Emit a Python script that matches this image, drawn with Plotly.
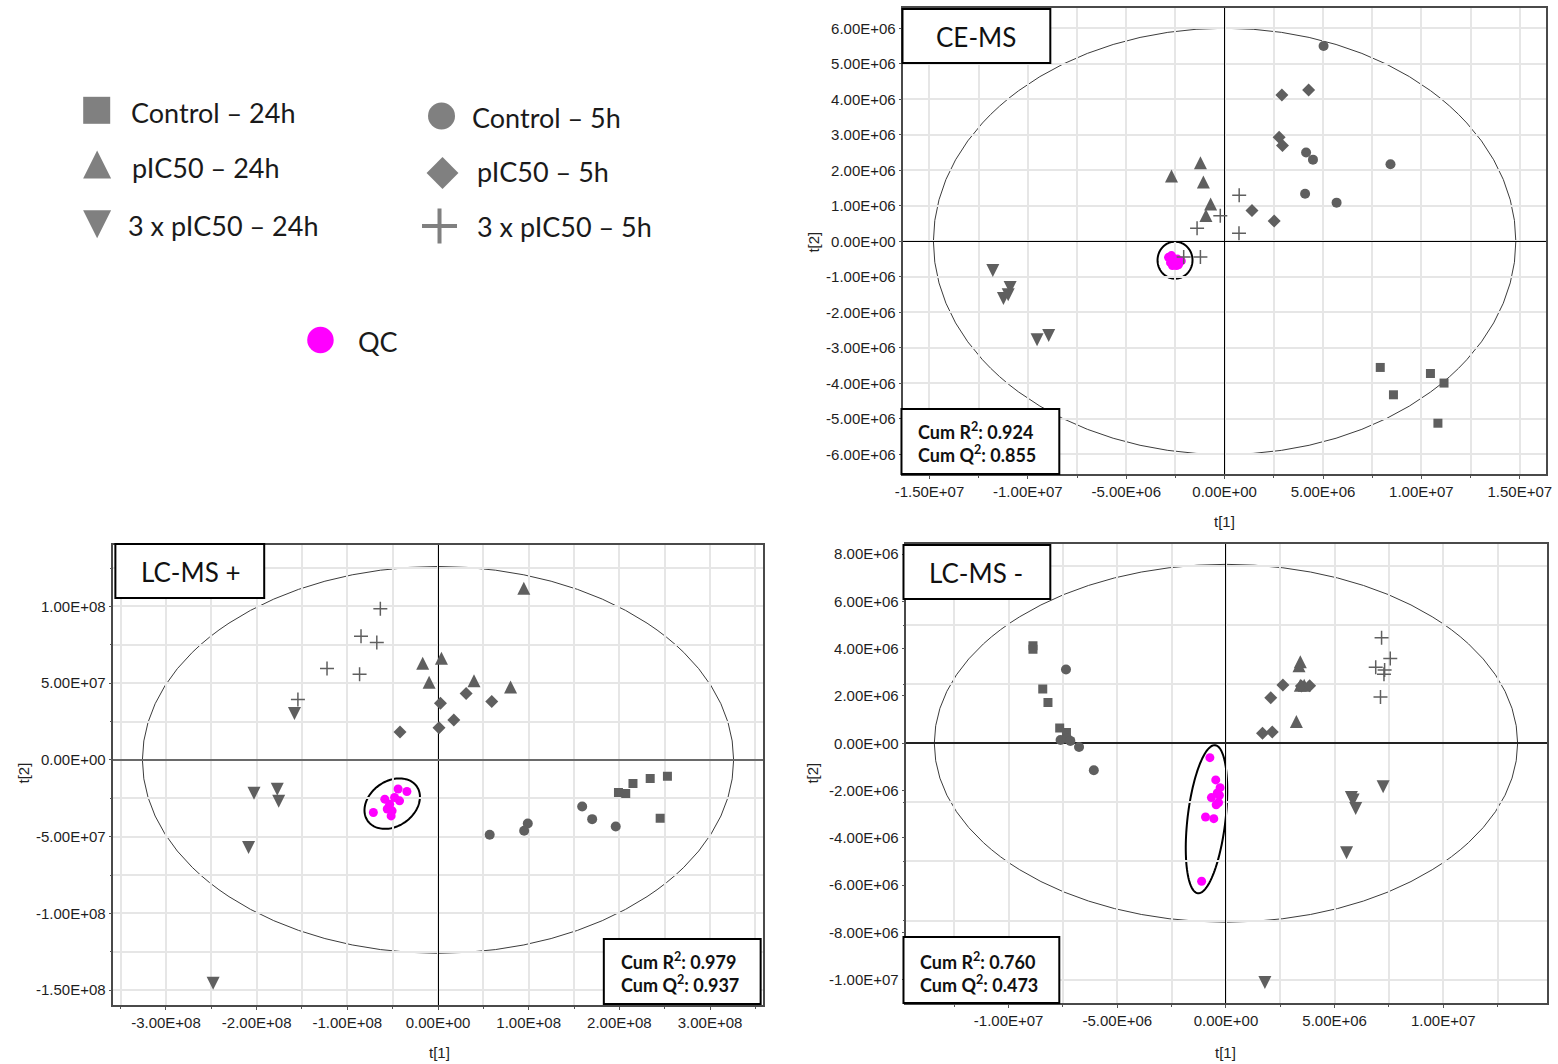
import math
import plotly.graph_objects as go

W, H = 1558, 1064

# ---------------- data: PCA scores (t[1], t[2]) ----------------
# CE-MS
CE_CONTROL_24H = [(7.91e6, -3.55e6), (8.58e6, -4.32e6), (10.46e6, -3.72e6), (11.15e6, -3.99e6), (10.84e6, -5.12e6)]
CE_CONTROL_5H = [(5.03e6, 5.50e6), (4.14e6, 2.50e6), (4.49e6, 2.30e6), (8.43e6, 2.17e6), (4.09e6, 1.34e6), (5.69e6, 1.09e6)]
CE_PIC50_24H = [(-2.70e6, 1.84e6), (-1.23e6, 2.21e6), (-1.08e6, 1.67e6), (-0.71e6, 1.05e6), (-0.95e6, 0.73e6)]
CE_PIC50_5H = [(2.91e6, 4.12e6), (4.27e6, 4.26e6), (2.77e6, 2.93e6), (2.94e6, 2.70e6), (1.39e6, 0.87e6), (2.52e6, 0.57e6)]
CE_3PIC50_24H = [(-11.78e6, -0.82e6), (-10.90e6, -1.30e6), (-11.00e6, -1.50e6), (-11.24e6, -1.61e6), (-9.53e6, -2.77e6), (-8.94e6, -2.65e6)]
CE_3PIC50_5H = [(0.74e6, 1.30e6), (-0.22e6, 0.72e6), (-1.40e6, 0.37e6), (0.73e6, 0.23e6), (-1.23e6, -0.44e6), (-2.08e6, -0.44e6)]
CE_QC = [(-2.85e6, -0.45e6), (-2.70e6, -0.40e6), (-2.60e6, -0.55e6), (-2.75e6, -0.60e6), (-2.50e6, -0.65e6),
         (-2.40e6, -0.50e6), (-2.30e6, -0.60e6), (-2.20e6, -0.55e6), (-2.45e6, -0.68e6), (-2.65e6, -0.68e6), (-2.35e6, -0.66e6)]

# LC-MS +
LP_CONTROL_24H = [(2.53e8, -1.06e7), (2.34e8, -1.22e7), (2.15e8, -1.54e7), (1.99e8, -2.13e7), (2.07e8, -2.19e7), (2.45e8, -3.80e7)]
LP_CONTROL_5H = [(1.59e8, -3.04e7), (1.70e8, -3.86e7), (1.96e8, -4.34e7), (0.99e8, -4.14e7), (0.95e8, -4.62e7), (0.57e8, -4.88e7)]
LP_PIC50_24H = [(0.946e8, 1.118e8), (0.038e8, 0.662e8), (-0.169e8, 0.629e8), (-0.098e8, 0.506e8), (0.397e8, 0.516e8), (0.80e8, 0.475e8)]
LP_PIC50_5H = [(0.027e8, 0.369e8), (0.31e8, 0.432e8), (0.593e8, 0.380e8), (0.174e8, 0.260e8), (0.011e8, 0.21e8), (-0.419e8, 0.182e8)]
LP_3PIC50_24H = [(-1.583e8, 0.302e8), (-2.029e8, -0.217e8), (-1.773e8, -0.191e8), (-1.757e8, -0.269e8), (-2.089e8, -0.571e8), (-2.48e8, -1.456e8)]
LP_3PIC50_5H = [(-0.636e8, 0.985e8), (-0.849e8, 0.805e8), (-0.675e8, 0.764e8), (-1.224e8, 0.595e8), (-0.865e8, 0.558e8), (-1.545e8, 0.393e8)]
LP_QC = [(-0.713e8, -0.343e8), (-0.343e8, -0.206e8), (-0.44e8, -0.19e8), (-0.587e8, -0.256e8), (-0.533e8, -0.289e8),
         (-0.506e8, -0.332e8), (-0.479e8, -0.245e8), (-0.56e8, -0.32e8), (-0.517e8, -0.365e8), (-0.424e8, -0.267e8)]

# LC-MS -
LN_CONTROL_24H = [(-8.88e6, 4.13e6), (-8.88e6, 3.98e6), (-8.43e6, 2.29e6), (-8.19e6, 1.72e6), (-7.65e6, 0.64e6), (-7.34e6, 0.45e6)]
LN_CONTROL_5H = [(-7.36e6, 3.12e6), (-7.61e6, 0.14e6), (-7.30e6, 0.20e6), (-7.16e6, 0.10e6), (-6.76e6, -0.16e6), (-6.08e6, -1.14e6)]
LN_PIC50_24H = [(3.42e6, 3.45e6), (3.36e6, 3.28e6), (3.42e6, 2.45e6), (3.24e6, 0.92e6), (3.60e6, 2.45e6)]
LN_PIC50_5H = [(1.68e6, 0.42e6), (2.13e6, 0.48e6), (2.06e6, 1.92e6), (2.62e6, 2.46e6), (3.47e6, 2.42e6), (3.85e6, 2.43e6)]
LN_3PIC50_24H = [(7.23e6, -1.84e6), (5.77e6, -2.30e6), (5.97e6, -2.76e6), (5.55e6, -4.63e6), (1.79e6, -10.12e6), (5.85e6, -2.40e6)]
LN_3PIC50_5H = [(7.16e6, 4.46e6), (7.56e6, 3.59e6), (6.89e6, 3.22e6), (7.27e6, 2.92e6), (7.11e6, 1.96e6), (7.30e6, 3.10e6)]
LN_QC = [(-0.74e6, -0.61e6), (-0.47e6, -1.55e6), (-0.27e6, -1.88e6), (-0.40e6, -2.10e6), (-0.67e6, -2.30e6), (-0.34e6, -2.51e6),
         (-0.45e6, -2.60e6), (-0.94e6, -3.12e6), (-0.56e6, -3.19e6), (-1.12e6, -5.84e6), (-0.30e6, -2.20e6)]

# model statistics
PANEL_NAMES = ["CE-MS", "LC-MS +", "LC-MS -"]
CUM_R2 = ["0.924", "0.979", "0.760"]
CUM_Q2 = ["0.855", "0.937", "0.473"]

# Hotelling T2 ellipse semi-axes (t[1], t[2])
CE_T2 = (1.48e7, 6.0e6)
LP_T2 = (3.26e8, 1.26e8)
LN_T2 = (1.342e7, 7.57e6)

# QC ellipse centres (t[1], t[2])
CE_QC_CENTER = (-2.52e6, -0.53e6)
LP_QC_CENTER = (-0.505e8, -0.285e8)
LN_QC_CENTER = (-0.895e6, -3.214e6)

# tick labels
CE_X_TICKS = [-1.5e7, -1.0e7, -5.0e6, 0.0, 5.0e6, 1.0e7, 1.5e7]
CE_X_LABELS = ["-1.50E+07", "-1.00E+07", "-5.00E+06", "0.00E+00", "5.00E+06", "1.00E+07", "1.50E+07"]
CE_Y_TICKS = [6e6, 5e6, 4e6, 3e6, 2e6, 1e6, 0, -1e6, -2e6, -3e6, -4e6, -5e6, -6e6]
CE_Y_LABELS = ["6.00E+06", "5.00E+06", "4.00E+06", "3.00E+06", "2.00E+06", "1.00E+06", "0.00E+00",
               "-1.00E+06", "-2.00E+06", "-3.00E+06", "-4.00E+06", "-5.00E+06", "-6.00E+06"]
LP_X_TICKS = [-3e8, -2e8, -1e8, 0, 1e8, 2e8, 3e8]
LP_X_LABELS = ["-3.00E+08", "-2.00E+08", "-1.00E+08", "0.00E+00", "1.00E+08", "2.00E+08", "3.00E+08"]
LP_Y_TICKS = [1e8, 5e7, 0, -5e7, -1e8, -1.5e8]
LP_Y_LABELS = ["1.00E+08", "5.00E+07", "0.00E+00", "-5.00E+07", "-1.00E+08", "-1.50E+08"]
LN_X_TICKS = [-1e7, -5e6, 0, 5e6, 1e7]
LN_X_LABELS = ["-1.00E+07", "-5.00E+06", "0.00E+00", "5.00E+06", "1.00E+07"]
LN_Y_TICKS = [8e6, 6e6, 4e6, 2e6, 0, -2e6, -4e6, -6e6, -8e6, -1e7]
LN_Y_LABELS = ["8.00E+06", "6.00E+06", "4.00E+06", "2.00E+06", "0.00E+00", "-2.00E+06",
               "-4.00E+06", "-6.00E+06", "-8.00E+06", "-1.00E+07"]

# ---------------- styling ----------------
GRAY = "#5f5f5f"
LEG_GRAY = "#808080"
MAGENTA = "#ff00ff"
TICK_FONT = dict(family="Liberation Sans, Arial, sans-serif", size=15, color="#1e1e1e")
TEXT_FAMILY = "Lato, Open Sans, sans-serif"

# horizontal pixel calibration (target pixel -> paper fraction)
X_OFF, X_SCALE = 7.5, 0.9915


def grid(lo, hi, step):
    n0 = math.ceil(lo / step)
    n1 = math.floor(hi / step)
    return [k * step for k in range(n0, n1 + 1)]


def px_x(p):
    return ((p - X_OFF) / X_SCALE) / W


def px_y(p):
    return 1 - p / H


def axis(domain, rng, tickvals, ticktext, gridvals, anchor, zl_color="#000000", zl_width=1):
    return dict(
        domain=domain, range=rng, anchor=anchor, fixedrange=True,
        tickmode="array", tickvals=tickvals, ticktext=ticktext,
        showgrid=False, ticks="outside", ticklen=3, tickwidth=1, tickcolor="#555555",
        showline=True, linecolor="#4a4a4a", linewidth=1.5, mirror=True,
        zeroline=True, zerolinecolor=zl_color, zerolinewidth=zl_width,
        minor=dict(tickmode="array", tickvals=gridvals, showgrid=True, gridcolor="#e6e6e6",
                   gridwidth=1.5, ticks="outside", ticklen=2, tickcolor="#555555"),
        tickfont=TICK_FONT,
    )


# panel layout (pixel boxes of plot areas)
PANELS = [
    dict(key="CE", xa="x", ya="y", xbox=(903, 1546), ybox=(8, 474),
         xr=[-1.632e7, 1.632e7], yr=[-6.55e6, 6.57e6],
         xt=(CE_X_TICKS, CE_X_LABELS), yt=(CE_Y_TICKS, CE_Y_LABELS), xg=2.5e6, yg=1e6,
         groups=[CE_QC, CE_CONTROL_24H, CE_CONTROL_5H, CE_PIC50_24H, CE_PIC50_5H, CE_3PIC50_24H, CE_3PIC50_5H],
         t2=CE_T2, qc=CE_QC_CENTER, qc_axes=(17.5, 18.5, 0.0), yzl=("#000000", 1)),
    dict(key="LP", xa="x2", ya="y2", xbox=(112, 762), ybox=(545, 1005),
         xr=[-3.58e8, 3.58e8], yr=[-1.597e8, 1.40e8],
         xt=(LP_X_TICKS, LP_X_LABELS), yt=(LP_Y_TICKS, LP_Y_LABELS), xg=5e7, yg=2.5e7,
         groups=[LP_QC, LP_CONTROL_24H, LP_CONTROL_5H, LP_PIC50_24H, LP_PIC50_5H, LP_3PIC50_24H, LP_3PIC50_5H],
         t2=LP_T2, qc=LP_QC_CENTER, qc_axes=(30.0, 22.5, 35.0), yzl=("#6a6a6a", 2)),
    dict(key="LN", xa="x3", ya="y3", xbox=(906, 1547), ybox=(544, 1003),
         xr=[-1.47e7, 1.476e7], yr=[-1.099e7, 8.43e6],
         xt=(LN_X_TICKS, LN_X_LABELS), yt=(LN_Y_TICKS, LN_Y_LABELS), xg=2.5e6, yg=2.5e6,
         groups=[LN_QC, LN_CONTROL_24H, LN_CONTROL_5H, LN_PIC50_24H, LN_PIC50_5H, LN_3PIC50_24H, LN_3PIC50_5H],
         t2=LN_T2, qc=LN_QC_CENTER, qc_axes=(74.5, 19.0, 83.3), yzl=("#222222", 1.5)),
]

# marker style per group: QC, Control-24h, Control-5h, pIC50-24h, pIC50-5h, 3xpIC50-24h, 3xpIC50-5h
STYLES = [
    dict(symbol="circle", size=9, color=MAGENTA),
    dict(symbol="square", size=9, color=GRAY),
    dict(symbol="circle", size=10, color=GRAY),
    dict(symbol="arrow-down", size=13, color=GRAY, angle=180, standoff=6.5),
    dict(symbol="diamond", size=10, color=GRAY),
    dict(symbol="arrow-down", size=13, color=GRAY, standoff=6.5),
    dict(symbol="cross-thin", size=10, color=GRAY, line=dict(color=GRAY, width=1.5)),
]

fig = go.Figure()
layout = dict(width=W, height=H, autosize=False, margin=dict(l=0, r=0, t=0, b=0),
              paper_bgcolor="white", plot_bgcolor="white", showlegend=False)
shapes = []
annotations = []


def ellipse_path(cx, cy, a_px, b_px, ang_deg, ux, uy, n=120):
    th = math.radians(ang_deg)
    pts = []
    for i in range(n + 1):
        t = 2 * math.pi * i / n
        dx = a_px * math.cos(t) * math.cos(th) - b_px * math.sin(t) * math.sin(th)
        dy = a_px * math.cos(t) * math.sin(th) + b_px * math.sin(t) * math.cos(th)
        pts.append((cx + dx * ux, cy + dy * uy))
    return "M " + " L ".join(f"{x:.6g},{y:.6g}" for x, y in pts) + " Z"


for i, p in enumerate(PANELS):
    sfx = "" if i == 0 else str(i + 1)
    xdom = [px_x(p["xbox"][0]), px_x(p["xbox"][1])]
    ydom = [px_y(p["ybox"][1]), px_y(p["ybox"][0])]
    layout["xaxis" + sfx] = axis(xdom, p["xr"], p["xt"][0], p["xt"][1],
                                 grid(p["xr"][0], p["xr"][1], p["xg"]), p["ya"])
    layout["yaxis" + sfx] = axis(ydom, p["yr"], p["yt"][0], p["yt"][1],
                                 grid(p["yr"][0], p["yr"][1], p["yg"]), p["xa"],
                                 zl_color=p["yzl"][0], zl_width=p["yzl"][1])

    for pts, st in zip(p["groups"], STYLES):
        mk = dict(symbol=st["symbol"], size=st["size"], color=st["color"], line=st.get("line", dict(width=0)))
        if "angle" in st:
            mk["angle"] = st["angle"]
        if "standoff" in st:
            mk["standoff"] = st["standoff"]
        fig.add_trace(go.Scatter(x=[q[0] for q in pts], y=[q[1] for q in pts], mode="markers",
                                 marker=mk, xaxis=p["xa"], yaxis=p["ya"], hoverinfo="skip"))

    # Hotelling T2 ellipse
    shapes.append(dict(type="circle", xref=p["xa"], yref=p["ya"], x0=-p["t2"][0], x1=p["t2"][0],
                       y0=-p["t2"][1], y1=p["t2"][1], line=dict(color="#3c3c3c", width=1), layer="below"))
    # QC ellipse
    ux = (p["xr"][1] - p["xr"][0]) / (p["xbox"][1] - p["xbox"][0])
    uy = (p["yr"][1] - p["yr"][0]) / (p["ybox"][1] - p["ybox"][0])
    a, b, ang = p["qc_axes"]
    shapes.append(dict(type="path", xref=p["xa"], yref=p["ya"],
                       path=ellipse_path(p["qc"][0], p["qc"][1], a, b, ang, ux, uy),
                       line=dict(color="#000000", width=2), layer="below"))

# label boxes and statistics boxes (pixel rectangles)
LABEL_BOXES = [(902, 9, 1050, 63), (114, 544, 263, 598), (903, 545, 1050, 599)]
LABEL_CENTERS = [(976, 37), (190, 572), (976, 573)]
CUM_BOXES = [(901, 409, 1059, 474), (603, 939, 760, 1004), (903, 937, 1059, 1003)]
CUM_TEXT_POS = [(916, 442), (618, 972), (918, 972)]

for i in range(3):
    for (x0, y0, x1, y1) in (LABEL_BOXES[i], CUM_BOXES[i]):
        shapes.append(dict(type="rect", xref="paper", yref="paper", x0=px_x(x0), x1=px_x(x1),
                           y0=px_y(y1), y1=px_y(y0), fillcolor="white",
                           line=dict(color="#000000", width=2), layer="above"))
    annotations.append(dict(xref="paper", yref="paper", x=px_x(LABEL_CENTERS[i][0]), y=px_y(LABEL_CENTERS[i][1]),
                            xanchor="center", yanchor="middle", showarrow=False, text=PANEL_NAMES[i],
                            font=dict(family=TEXT_FAMILY, size=26, color="#111111")))
    annotations.append(dict(xref="paper", yref="paper", x=px_x(CUM_TEXT_POS[i][0]), y=px_y(CUM_TEXT_POS[i][1]),
                            xanchor="left", yanchor="middle", align="left", showarrow=False,
                            text=f"Cum R<sup>2</sup>: {CUM_R2[i]}<br>Cum Q<sup>2</sup>: {CUM_Q2[i]}",
                            font=dict(family=TEXT_FAMILY, size=18, color="#111111", weight="bold")))

# axis titles
AXIS_TITLE_FONT = dict(family="Liberation Sans, Arial, sans-serif", size=15, color="#222222")
for (tx, ty) in [(1224, 521), (438, 1052), (1225, 1052)]:
    annotations.append(dict(xref="paper", yref="paper", x=px_x(tx), y=px_y(ty), text="t[1]",
                            showarrow=False, xanchor="center", yanchor="middle", font=AXIS_TITLE_FONT))
for (tx, ty) in [(812, 242), (22, 773), (811, 773)]:
    annotations.append(dict(xref="paper", yref="paper", x=px_x(tx), y=px_y(ty), text="t[2]", textangle=-90,
                            showarrow=False, xanchor="center", yanchor="middle", font=AXIS_TITLE_FONT))

# ---------------- hand-made legend (top-left) ----------------
LEGEND_LABELS = ["Control – 24h", "pIC50 – 24h", "3 x pIC50 – 24h", "Control – 5h", "pIC50 – 5h", "3 x pIC50 – 5h", "QC"]
LEG_MARK_POS = [(95.3, 110.3), (95.7, 164.5), (95.7, 224.2), (440.5, 116), (441.5, 173), (438.5, 226), (319.3, 340)]
LEG_TEXT_POS = [(128.0, 112), (129.0, 167.5), (124.5, 226), (469.0, 117.3), (474.5, 172), (474.5, 226.7), (354.5, 341)]
LEG_STYLES = [
    dict(symbol="square", size=27, color=LEG_GRAY),
    dict(symbol="arrow-down", size=28, color=LEG_GRAY, angle=180, standoff=14),
    dict(symbol="arrow-down", size=28, color=LEG_GRAY, standoff=14),
    dict(symbol="circle", size=27, color=LEG_GRAY),
    dict(symbol="diamond", size=24.5, color=LEG_GRAY),
    dict(symbol="cross-thin", size=25, color=LEG_GRAY, line=dict(color=LEG_GRAY, width=4)),
    dict(symbol="circle", size=26.5, color=MAGENTA),
]
layout["xaxis4"] = dict(domain=[0, 0.5], range=[X_OFF, X_OFF + 0.5 * W * X_SCALE], visible=False,
                        fixedrange=True, anchor="y4")
layout["yaxis4"] = dict(domain=[0.5, 1], range=[0.5 * H, 0], visible=False, fixedrange=True, anchor="x4")
for (mx, my), st in zip(LEG_MARK_POS, LEG_STYLES):
    mk = dict(symbol=st["symbol"], size=st["size"], color=st["color"], line=st.get("line", dict(width=0)))
    if "angle" in st:
        mk["angle"] = st["angle"]
    if "standoff" in st:
        mk["standoff"] = st["standoff"]
    fig.add_trace(go.Scatter(x=[mx], y=[my], mode="markers", marker=mk, xaxis="x4", yaxis="y4", hoverinfo="skip"))
for (tx, ty), lab in zip(LEG_TEXT_POS, LEGEND_LABELS):
    annotations.append(dict(xref="paper", yref="paper", x=px_x(tx), y=px_y(ty), text=lab, showarrow=False,
                            xanchor="left", yanchor="middle",
                            font=dict(family=TEXT_FAMILY, size=27, color="#1a1a1a")))

layout["shapes"] = shapes
layout["annotations"] = annotations
fig.update_layout(**layout)
fig.write_html("out.html", config={"displayModeBar": False})
